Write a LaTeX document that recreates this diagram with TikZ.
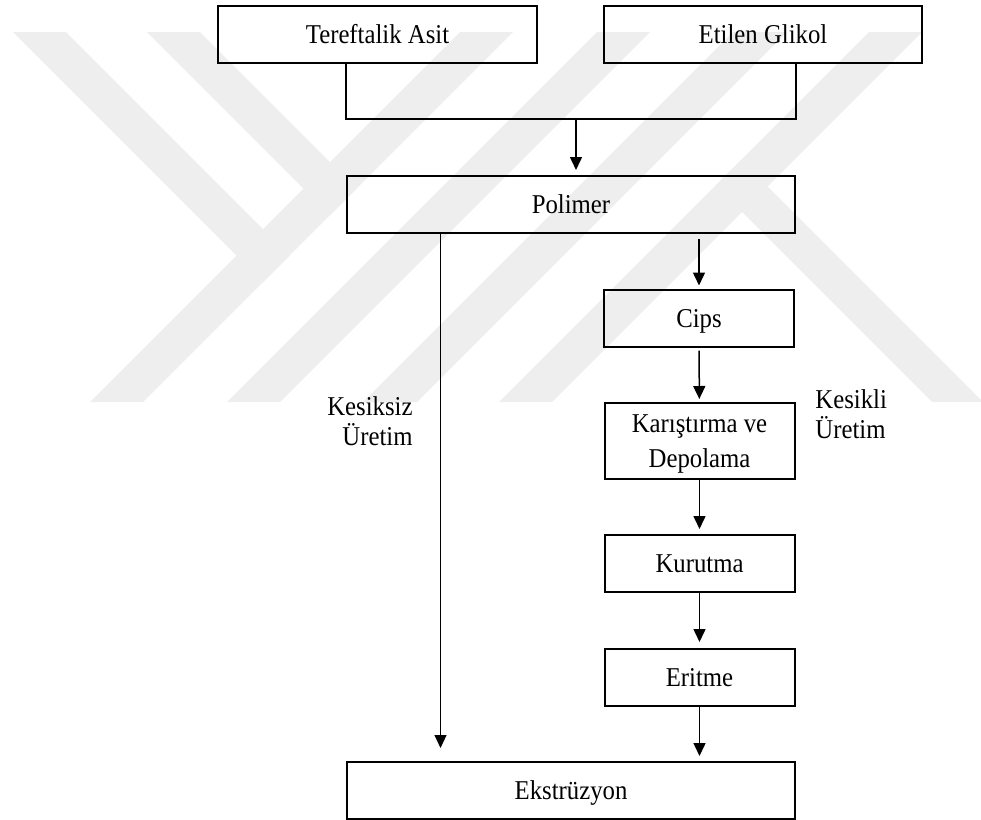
\documentclass[tikz,border=0pt]{standalone}
\usepackage{fontspec}
\setmainfont{Liberation Serif}[FakeStretch=0.91]
\usetikzlibrary{arrows.meta,calc}
\definecolor{filigran}{RGB}{238,238,238}
\begin{document}
\begin{tikzpicture}[x=0.5pt,y=-0.5pt,font=\fontsize{13.6}{15}\selectfont,
    kutu/.style={draw,line width=1pt,inner sep=0pt,minimum width=95pt,minimum height=28.5pt,text height=9pt,text depth=0pt},
    genis/.style={kutu,minimum width=224pt},
    ok/.style={-{Triangle[length=6.5pt,width=6pt]},line width=0.75pt}]
    \useasboundingbox (0,0) rectangle (981,820);
    \begin{scope}
        \clip (0,32) rectangle (981,402);
        \fill[filigran] (13,32)--(66,32)--(289.5,255.5)--(263,282)--cycle;
        \fill[filigran] (147,32)--(200,32)--(356.5,188.5)--(330,215)--cycle;
        \fill[filigran] (460,32)--(513,32)--(143,402)--(90,402)--cycle;
        \fill[filigran] (597,32)--(650,32)--(280,402)--(227,402)--cycle;
        \fill[filigran] (733,32)--(787,32)--(417,402)--(363,402)--cycle;
        \fill[filigran] (869,32)--(922,32)--(552,402)--(499,402)--cycle;
        \fill[filigran] (715.5,185.5)--(741,160)--(983,402)--(932,402)--cycle;
    \end{scope}
    \node[kutu,minimum width=159.5pt] (tereftalik) at (377.5,34.5) {Tereftalik Asit};
    \node[kutu,minimum width=159pt] (etilen) at (763,34.5) {Etilen Glikol};
    \node[genis] (polimer) at (571,204.5) {Polimer};
    \node[kutu] (cips) at (699,318) {Cips};
    \node[kutu,minimum height=38pt,text height=26.5pt,align=center,font=\fontsize{13.6}{17.5}\selectfont] (karistirma) at (699.5,441) {Karıştırma ve\\Depolama};
    \node[kutu] (kurutma) at (699.5,563.5) {Kurutma};
    \node[kutu] (eritme) at (699.5,677.5) {Eritme};
    \node[genis] (ekstruzyon) at (571,790.5) {Ekstrüzyon};
    \node[align=right,anchor=north east,inner sep=0pt,text height=9pt] (kesiksiz) at (413,427) {Kesiksiz\\Üretim};
    \node[align=left,anchor=north west,inner sep=0pt,text height=9pt] (kesikli) at (815,420) {Kesikli\\Üretim};
    \coordinate (birlesim) at (576,119);
    \draw[line width=1pt] (tereftalik.south -| polimer.west) |- (birlesim -| polimer.east) -- (etilen.south -| polimer.east);
    \draw[ok,shorten >=2.5pt] (birlesim) -- (birlesim |- polimer.north);
    \draw[ok,line width=0.5pt,shorten >=6.5pt] ($(polimer.south west)!0.21!(polimer.south east)$) -- ($(ekstruzyon.north west)!0.21!(ekstruzyon.north east)$);
    \draw[ok,shorten <=2.5pt,shorten >=1.5pt] (polimer.south -| cips.north) -- (cips.north);
    \draw[ok,shorten <=1.5pt,shorten >=1.5pt] (cips) -- (karistirma);
    \draw[ok,shorten >=2.5pt] (karistirma) -- (kurutma);
    \draw[ok,shorten >=3pt] (kurutma) -- (eritme);
    \draw[ok,shorten >=2.5pt] (eritme) -- (eritme |- ekstruzyon.north);
\end{tikzpicture}
\end{document}
